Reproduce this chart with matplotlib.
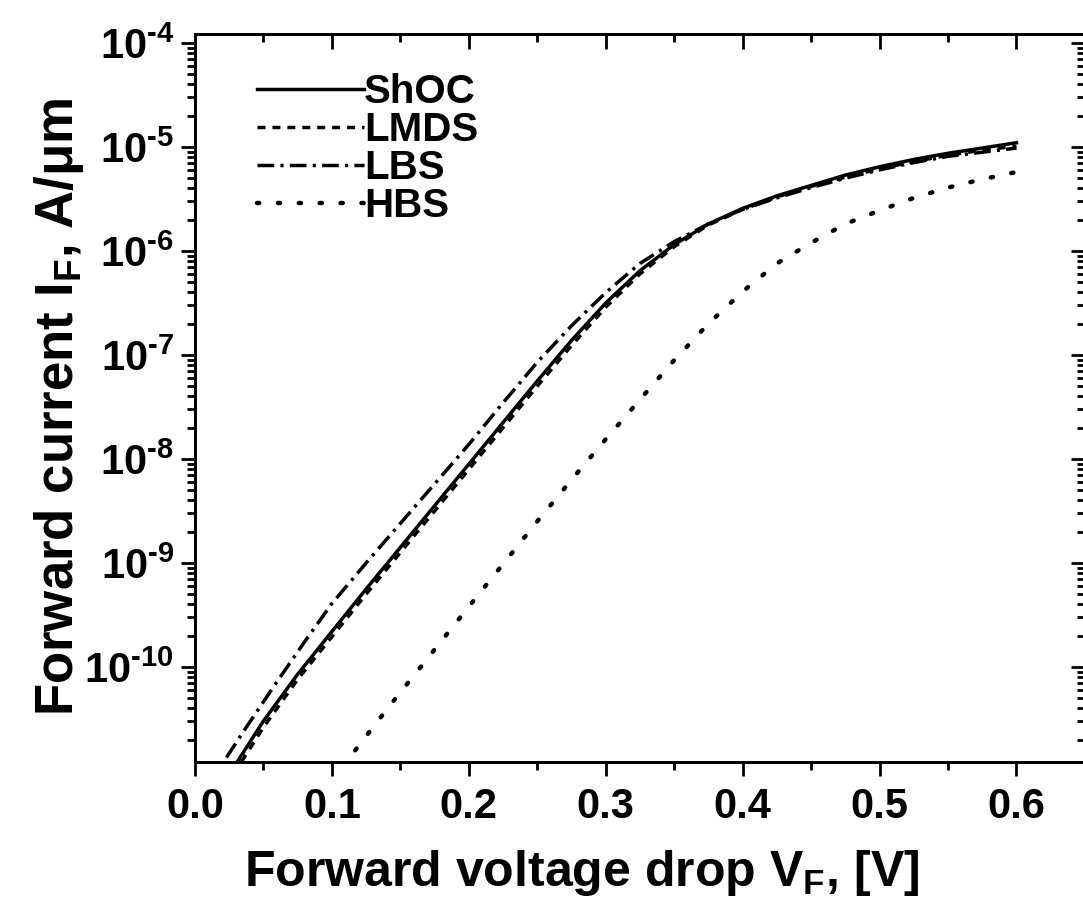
import numpy as np
import matplotlib
matplotlib.use("Agg")
import matplotlib.pyplot as plt
from matplotlib.ticker import MultipleLocator, LogLocator, FixedLocator, FuncFormatter, NullFormatter

plt.rcParams['font.family'] = ['Liberation Sans', 'DejaVu Sans']
plt.rcParams['font.weight'] = 'bold'
plt.rcParams['mathtext.fontset'] = 'custom'
plt.rcParams['mathtext.rm'] = 'Liberation Sans:bold'
plt.rcParams['mathtext.bf'] = 'Liberation Sans:bold'
plt.rcParams['mathtext.it'] = 'Liberation Sans:bold'

# forward voltage [V] and current [A/um]
v_shoc = [0.031, 0.05, 0.075, 0.10, 0.125, 0.15, 0.175, 0.20, 0.225, 0.25, 0.275, 0.30,
          0.325, 0.35, 0.375, 0.40, 0.425, 0.45, 0.475, 0.50, 0.525, 0.55, 0.575, 0.60]
i_shoc = [1.23e-11, 3.02e-11, 8.51e-11, 2.19e-10, 5.62e-10, 1.41e-9, 3.55e-9, 8.91e-9,
          2.24e-8, 5.62e-8, 1.38e-7, 3.16e-7, 6.46e-7, 1.15e-6, 1.82e-6, 2.57e-6,
          3.39e-6, 4.27e-6, 5.37e-6, 6.46e-6, 7.59e-6, 8.71e-6, 9.77e-6, 1.10e-5]

v_lmds = [0.034, 0.05, 0.075, 0.10, 0.125, 0.15, 0.175, 0.20, 0.225, 0.25, 0.275, 0.30,
          0.325, 0.35, 0.375, 0.40, 0.425, 0.45, 0.475, 0.50, 0.525, 0.55, 0.575, 0.60]
i_lmds = [1.23e-11, 2.63e-11, 7.59e-11, 1.95e-10, 5.01e-10, 1.26e-9, 3.16e-9, 7.94e-9,
          2.00e-8, 5.01e-8, 1.23e-7, 2.88e-7, 6.03e-7, 1.10e-6, 1.78e-6, 2.51e-6,
          3.31e-6, 4.17e-6, 5.13e-6, 6.17e-6, 7.24e-6, 8.32e-6, 9.33e-6, 1.02e-5]

v_lbs = [0.023, 0.04, 0.06, 0.08, 0.10, 0.125, 0.15, 0.175, 0.20, 0.225, 0.25, 0.275, 0.30,
         0.325, 0.35, 0.375, 0.40, 0.425, 0.45, 0.475, 0.50, 0.525, 0.55, 0.575, 0.60]
i_lbs = [1.35e-11, 2.95e-11, 7.24e-11, 1.74e-10, 4.07e-10, 1.00e-9, 2.40e-9, 5.75e-9,
         1.38e-8, 3.47e-8, 8.51e-8, 1.91e-7, 3.98e-7, 7.59e-7, 1.23e-6, 1.82e-6, 2.51e-6,
         3.24e-6, 4.07e-6, 5.01e-6, 6.03e-6, 7.08e-6, 8.13e-6, 8.91e-6, 9.77e-6]

v_hbs = [0.117, 0.14, 0.16, 0.18, 0.20, 0.225, 0.25, 0.275, 0.30, 0.325, 0.35, 0.375,
         0.40, 0.425, 0.45, 0.475, 0.50, 0.525, 0.55, 0.575, 0.60]
i_hbs = [1.58e-11, 3.89e-11, 8.32e-11, 1.78e-10, 3.80e-10, 9.77e-10, 2.51e-9, 6.31e-9,
         1.55e-8, 3.72e-8, 8.91e-8, 2.00e-7, 4.07e-7, 7.59e-7, 1.20e-6, 1.82e-6,
         2.45e-6, 3.24e-6, 4.07e-6, 4.90e-6, 5.75e-6]

labels = ['ShOC', 'LMDS', 'LBS', 'HBS']

fig = plt.figure(figsize=(10.83, 9.05), dpi=100)
ax = fig.add_axes([0.180, 0.158, 0.8218, 0.8044])

ax.plot(v_shoc, i_shoc, color='k', lw=2.5, ls='-', label=labels[0])
ax.plot(v_lmds, i_lmds, color='k', lw=2.5, ls=(0, (2.3, 2.0)), label=labels[1])
ax.plot(v_lbs, i_lbs, color='k', lw=2.5, ls=(0, (4.8, 1.8, 0.9, 1.8)), label=labels[2])
ax.plot(v_hbs, i_hbs, color='k', lw=3.2, ls=(0, (0.5, 4.2)), dash_capstyle='round',
        label=labels[3])

ax.set_yscale('log')
ax.set_xlim(0, 0.65)
ax.set_ylim(1.22e-11, 1.22e-4)

ax.xaxis.set_major_locator(MultipleLocator(0.1))
ax.xaxis.set_minor_locator(MultipleLocator(0.05))
ax.xaxis.set_major_formatter(FuncFormatter(lambda x, p: '%.1f' % x))
ax.yaxis.set_major_locator(FixedLocator([10.0**k for k in range(-10, -3)]))
ax.yaxis.set_minor_locator(LogLocator(base=10, subs=np.arange(2, 10), numticks=20))
ax.yaxis.set_minor_formatter(NullFormatter())


def sci_fmt(y, pos):
    e = int(round(np.log10(y)))
    return r'$\mathbf{10^{\text{-}%d}}$' % (-e)


ax.yaxis.set_major_formatter(FuncFormatter(sci_fmt))

for s in ax.spines.values():
    s.set_linewidth(2.0)

ax.tick_params(which='both', direction='out', top=False, right=False, width=2.0, labelsize=30)
ax.tick_params(which='major', length=10, pad=5)
ax.tick_params(which='minor', length=6)
ax.tick_params(axis='x', which='major', pad=8)

# mirrored ticks on top and right, pointing inward
axt = ax.twiny()
axt.set_xlim(ax.get_xlim())
axt.xaxis.set_major_locator(MultipleLocator(0.1))
axt.xaxis.set_minor_locator(MultipleLocator(0.05))
axt.tick_params(which='both', direction='in', labeltop=False, width=2.0)
axt.tick_params(which='major', length=11)
axt.tick_params(which='minor', length=6)

axr = ax.twinx()
axr.set_yscale('log')
axr.set_ylim(ax.get_ylim())
axr.yaxis.set_major_locator(FixedLocator([10.0**k for k in range(-10, -3)]))
axr.yaxis.set_minor_locator(LogLocator(base=10, subs=np.arange(2, 10), numticks=20))
axr.tick_params(which='both', direction='in', labelright=False, width=2.0)
axr.tick_params(which='major', length=10)
axr.tick_params(which='minor', length=6)
for a in (axt, axr):
    for s in a.spines.values():
        s.set_linewidth(2.0)

ax.set_xlabel(r'Forward voltage drop V$_\mathbf{F}$, [V]', fontsize=36, fontweight='bold')
ax.xaxis.set_label_coords(0.435, -0.118)
ax.set_ylabel(r'Forward current I$_\mathbf{F}$, A/μm', fontsize=38, fontweight='bold')
ax.yaxis.set_label_coords(-0.122, 0.488)

ax.legend(loc='upper left', bbox_to_anchor=(0.07, 0.946), frameon=False, fontsize=29,
          handlelength=2.65, handletextpad=0.0, labelspacing=0.0, borderpad=0,
          borderaxespad=0)

fig.savefig('out.png', dpi=100)
